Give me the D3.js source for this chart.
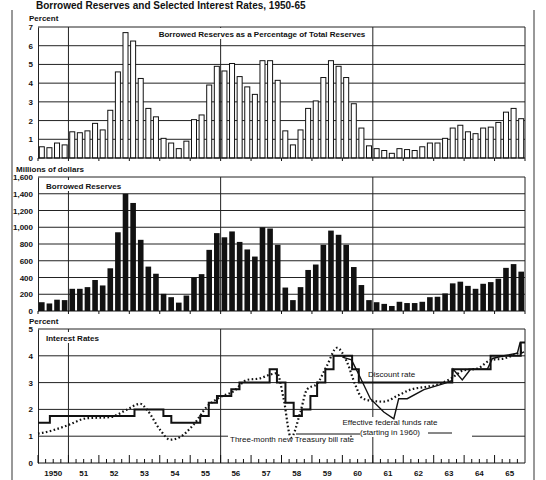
<!DOCTYPE html>
<html>
<head>
<meta charset="utf-8">
<script src="https://cdn.jsdelivr.net/npm/d3@7"></script>
<style>
body { margin: 0; background: #fff; }
text { font-family: "Liberation Sans", Arial, sans-serif; fill: #111; }
</style>
</head>
<body>
<script>
const w = 546;
const h = 480;

// quarterly, 1950Q1 .. 1965Q4
const pctBorrowed = [
  0.6, 0.55, 0.8, 0.7,   1.4, 1.35, 1.45, 1.85,   1.5, 2.55, 4.6, 6.7,
  6.25, 4.25, 2.65, 2.2, 1.05, 0.8, 0.5, 0.9,     2.05, 2.3, 3.9, 4.9,
  4.65, 5.05, 4.35, 3.8, 3.4, 5.2, 5.2, 4.15,     1.45, 0.7, 1.5, 2.65,
  3.05, 4.3, 5.2, 4.9,   4.3, 2.9, 1.6, 0.65,     0.5, 0.4, 0.25, 0.5,
  0.45, 0.4, 0.6, 0.8,   0.8, 1.05, 1.6, 1.75,    1.4, 1.3, 1.6, 1.65,
  1.9, 2.45, 2.65, 2.1
];
const borrowedMil = [
  105, 90, 135, 130,   265, 265, 285, 370,   305, 510, 940, 1400,
  1290, 850, 530, 445, 205, 165, 100, 185,   400, 440, 730, 930,
  880, 950, 825, 735,  650, 1000, 985, 790,  280, 130, 285, 490,
  555, 790, 960, 910,  790, 525, 310, 130,   105, 85, 60, 110,
  95, 95, 110, 165,    170, 210, 330, 350,   300, 265, 325, 345,
  385, 515, 560, 470
];
const discountRate = [
  [1950.0, 1.5], [1950.39, 1.75], [1953.17, 2.0], [1954.12, 1.75], [1954.38, 1.5],
  [1955.33, 1.75], [1955.61, 2.25], [1955.88, 2.5], [1956.35, 2.75], [1956.62, 3.0],
  [1957.61, 3.5], [1957.85, 3.0], [1958.13, 2.25], [1958.4, 1.75], [1958.67, 2.0],
  [1958.95, 2.5], [1959.17, 3.0], [1959.44, 3.5], [1959.71, 4.0], [1960.32, 3.5],
  [1960.54, 3.0], [1963.61, 3.5], [1964.87, 4.0], [1965.86, 4.5], [1966.0, 4.5]
];
const tbillRate = [
  [1950.0, 1.1], [1950.12, 1.12], [1950.94, 1.39], [1951.6, 1.67], [1952.37, 1.71],
  [1952.92, 1.99], [1953.36, 2.21], [1953.58, 1.99], [1954.01, 1.24], [1954.34, 0.87],
  [1954.67, 0.97], [1955.11, 1.43], [1955.55, 2.1], [1955.99, 2.46], [1956.42, 2.67],
  [1956.86, 3.1], [1957.3, 3.16], [1957.63, 3.3], [1957.85, 3.35], [1958.07, 2.4],
  [1958.31, 0.95], [1958.62, 1.9], [1958.84, 2.75], [1959.17, 2.96], [1959.5, 3.65],
  [1959.82, 4.3], [1960.15, 3.77], [1960.43, 2.9], [1960.65, 2.42], [1960.92, 2.33],
  [1961.36, 2.29], [1961.8, 2.5], [1962.24, 2.74], [1962.68, 2.83], [1963.11, 2.92],
  [1963.55, 3.14], [1963.99, 3.46], [1964.43, 3.52], [1964.87, 3.84], [1965.31, 3.9],
  [1965.75, 4.09], [1965.97, 4.2]
];
const fedFunds = [
  [1960.0, 3.95], [1960.3, 3.85], [1960.54, 3.3], [1960.92, 2.4], [1961.36, 1.9],
  [1961.69, 1.65], [1961.85, 2.4], [1962.13, 2.4], [1962.68, 2.74], [1963.33, 2.96],
  [1963.61, 3.08], [1963.64, 3.5], [1963.94, 3.1], [1964.21, 3.5], [1964.76, 3.5],
  [1964.93, 3.9], [1965.31, 4.0], [1965.75, 4.1], [1965.84, 4.5], [1965.88, 4.1],
  [1965.97, 4.15]
];
const yearLabels = ['1950', '51', '52', '53', '54', '55', '56', '57', '58', '59', '60', '61', '62', '63', '64', '65'];

const svg = d3.select('body').append('svg').attr('width', w).attr('height', h);

const x = d3.scaleLinear().domain([1950, 1966]).range([38, 525]);
const qw = (x(1951) - x(1950)) / 4;
const years = d3.range(1950, 1967);

// page frame
svg.append('line').attr('x1', 12).attr('x2', 12).attr('y1', 10).attr('y2', h).attr('stroke', '#333');
svg.append('line').attr('x1', 534).attr('x2', 534).attr('y1', 10).attr('y2', h).attr('stroke', '#333');

svg.append('text').attr('x', 36).attr('y', 9).attr('font-size', 10).attr('font-weight', 'bold')
  .text('Borrowed Reserves and Selected Interest Rates, 1950-65');

function panel(y, ticks, fmt, unitLabel, unitX, unitY) {
  const g = svg.append('g');
  g.selectAll('.grid').data(ticks).enter().append('line')
    .attr('x1', x(1950)).attr('x2', x(1966))
    .attr('y1', d => y(d)).attr('y2', d => y(d))
    .attr('stroke', '#222').attr('stroke-width', 1);
  [1951, 1956, 1961].forEach(yr => {
    g.append('line').attr('x1', x(yr)).attr('x2', x(yr))
      .attr('y1', y.range()[1]).attr('y2', y.range()[0]).attr('stroke', '#222');
  });
  g.append('line').attr('x1', x(1966)).attr('x2', x(1966))
    .attr('y1', y.range()[1]).attr('y2', y.range()[0]).attr('stroke', '#222');
  const ax = g.append('g').attr('transform', `translate(${x(1950)},0)`)
    .call(d3.axisLeft(y).tickValues([0].concat(ticks)).tickFormat(fmt).tickSize(0).tickPadding(5));
  ax.select('.domain').attr('stroke', '#222');
  ax.selectAll('text').attr('font-size', 8).attr('font-weight', 'bold')
    .style('font-family', '"Liberation Sans", Arial, sans-serif');
  svg.append('text').attr('x', unitX).attr('y', unitY).attr('font-size', 8).attr('font-weight', 'bold').text(unitLabel);
  return g;
}

// ---- top panel
const y1 = d3.scaleLinear().domain([0, 7]).range([158, 27]);
const g1 = panel(y1, [1, 2, 3, 4, 5, 6, 7], d3.format('d'), 'Percent', 29, 21);
g1.append('rect').attr('x', 155).attr('y', 28).attr('width', 215).attr('height', 11).attr('fill', '#fff');
g1.append('text').attr('x', 262).attr('y', 37).attr('text-anchor', 'middle').attr('font-size', 8)
  .attr('font-weight', 'bold').text('Borrowed Reserves as a Percentage of Total Reserves');
g1.selectAll('.bar').data(pctBorrowed).enter().append('rect')
  .attr('x', (d, i) => x(1950 + i / 4) + 1.3).attr('width', qw - 2.6)
  .attr('y', d => y1(d)).attr('height', d => y1(0) - y1(d))
  .attr('fill', '#fff').attr('stroke', '#111').attr('stroke-width', 1);
g1.append('line').attr('x1', x(1950)).attr('x2', x(1966)).attr('y1', y1(0)).attr('y2', y1(0)).attr('stroke', '#111');
g1.selectAll('.tk').data(years).enter().append('line')
  .attr('x1', d => x(d)).attr('x2', d => x(d)).attr('y1', y1(0)).attr('y2', y1(0) + 3).attr('stroke', '#111');

// ---- middle panel
const y2 = d3.scaleLinear().domain([0, 1600]).range([311, 177]);
const g2 = panel(y2, d3.range(200, 1601, 200), d3.format(','), 'Millions of dollars', 16, 172);
g2.append('rect').attr('x', 44).attr('y', 180).attr('width', 76).attr('height', 11).attr('fill', '#fff');
g2.append('text').attr('x', 46).attr('y', 189).attr('font-size', 8).attr('font-weight', 'bold').text('Borrowed Reserves');
g2.selectAll('.bar').data(borrowedMil).enter().append('rect')
  .attr('x', (d, i) => x(1950 + i / 4) + 1).attr('width', qw - 2)
  .attr('y', d => y2(d)).attr('height', d => y2(0) - y2(d))
  .attr('fill', '#111');
g2.append('line').attr('x1', x(1950)).attr('x2', x(1966)).attr('y1', y2(0)).attr('y2', y2(0)).attr('stroke', '#111');
g2.selectAll('.tk').data(years).enter().append('line')
  .attr('x1', d => x(d)).attr('x2', d => x(d)).attr('y1', y2(0)).attr('y2', y2(0) + 3).attr('stroke', '#111');

// ---- bottom panel
const y3 = d3.scaleLinear().domain([0, 5]).range([463, 329]);
const g3 = panel(y3, [1, 2, 3, 4, 5], d3.format('d'), 'Percent', 29, 324);
g3.append('rect').attr('x', 44).attr('y', 332).attr('width', 52).attr('height', 11).attr('fill', '#fff');
g3.append('text').attr('x', 46).attr('y', 341).attr('font-size', 8).attr('font-weight', 'bold').text('Interest Rates');
g3.append('line').attr('x1', x(1950)).attr('x2', x(1966)).attr('y1', y3(0)).attr('y2', y3(0)).attr('stroke', '#111');
g3.selectAll('.qt').data(d3.range(1950, 1966, 0.25)).enter().append('line')
  .attr('x1', d => x(d)).attr('x2', d => x(d)).attr('y1', y3(0))
  .attr('y2', d => y3(0) - (Math.abs(d - Math.round(d)) < 0.01 ? 8 : 4)).attr('stroke', '#111');
g3.selectAll('.yl').data(yearLabels).enter().append('text')
  .attr('x', (d, i) => x(1950 + i + 0.5)).attr('y', 476).attr('text-anchor', 'middle')
  .attr('font-size', 8).attr('font-weight', 'bold').text(d => d);

// label backgrounds and leaders
g3.append('rect').attr('x', 228).attr('y', 433).attr('width', 122).attr('height', 11).attr('fill', '#fff');
g3.append('rect').attr('x', 352).attr('y', 417).attr('width', 120).attr('height', 20).attr('fill', '#fff');
g3.append('line').attr('x1', 296).attr('x2', 360).attr('y1', 434).attr('y2', 434).attr('stroke', '#111');
g3.append('line').attr('x1', 428).attr('x2', 452).attr('y1', 433).attr('y2', 433).attr('stroke', '#111');

const line = d3.line().x(d => x(d[0])).y(d => y3(d[1]));
g3.append('path').datum(tbillRate).attr('d', line.curve(d3.curveMonotoneX))
  .attr('fill', 'none').attr('stroke', '#111').attr('stroke-width', 2.2).attr('stroke-dasharray', '1.6,2.4');
g3.append('path').datum(discountRate).attr('d', d3.line().x(d => x(d[0])).y(d => y3(d[1])).curve(d3.curveStepAfter))
  .attr('fill', 'none').attr('stroke', '#111').attr('stroke-width', 2);
g3.append('path').datum(fedFunds).attr('d', d3.line().x(d => x(d[0])).y(d => y3(d[1])))
  .attr('fill', 'none').attr('stroke', '#111').attr('stroke-width', 1.4);

g3.append('text').attr('x', 368).attr('y', 377).attr('font-size', 8).text('Discount rate');
g3.append('text').attr('x', 390).attr('y', 425).attr('text-anchor', 'middle').attr('font-size', 8).text('Effective federal funds rate');
g3.append('text').attr('x', 390).attr('y', 435).attr('text-anchor', 'middle').attr('font-size', 8).text('(starting in 1960)');
g3.append('text').attr('x', 230).attr('y', 442).attr('font-size', 8).text('Three-month new Treasury bill rate');
</script>
</body>
</html>
